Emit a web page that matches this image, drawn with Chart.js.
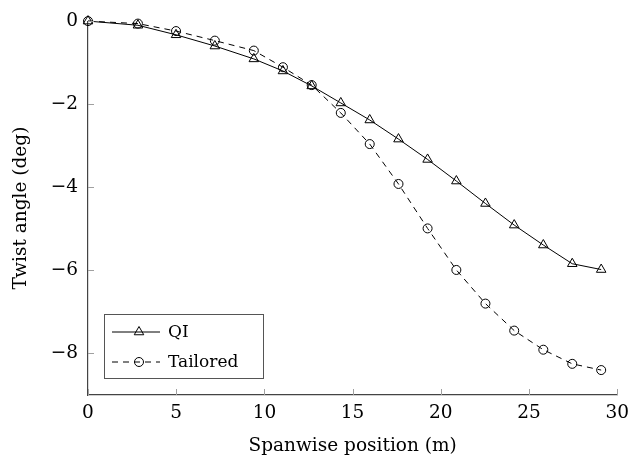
<!DOCTYPE html>
<html>
<head>
<meta charset="utf-8">
<script src="https://cdn.jsdelivr.net/npm/chart.js@4/dist/chart.umd.min.js"></script>
<style>
  html, body { margin: 0; padding: 0; background: #fff; }
  canvas { display: block; }
</style>
</head>
<body>
<canvas id="twist" width="636" height="465"></canvas>
<script>
const positions = [0, 2.83, 4.99, 7.19, 9.40, 11.05, 12.68, 14.33, 15.97, 17.60, 19.25, 20.88, 22.53, 24.16, 25.81, 27.45, 29.09];
const qiTwist = [0, -0.10, -0.33, -0.60, -0.91, -1.20, -1.56, -1.97, -2.38, -2.84, -3.33, -3.85, -4.39, -4.91, -5.39, -5.84, -5.98];
const tailoredTwist = [0, -0.06, -0.24, -0.47, -0.71, -1.11, -1.54, -2.21, -2.96, -3.92, -4.99, -5.99, -6.80, -7.45, -7.91, -8.25, -8.40];
const xTicks = [0, 5, 10, 15, 20, 25, 30];
const yTicks = [-8, -6, -4, -2, 0];

const serif = "'DejaVu Serif', 'Liberation Serif', serif";
const fontSize = 18.5;
const minus = v => (v < 0 ? "\u2212" + Math.abs(v) : String(v));

const toPoints = ys => positions.map((x, i) => ({ x: x, y: ys[i] }));

// ticks drawn inward, like the original
const innerTicks = {
  id: "innerTicks",
  afterDatasetsDraw(chart) {
    const { ctx, chartArea, scales } = chart;
    ctx.save();
    ctx.strokeStyle = "#a0a0a0";
    ctx.lineWidth = 1;
    ctx.beginPath();
    xTicks.forEach(v => {
      const px = Math.round(scales.x.getPixelForValue(v)) + 0.5;
      ctx.moveTo(px, chartArea.bottom);
      ctx.lineTo(px, chartArea.bottom - 6);
    });
    yTicks.forEach(v => {
      const py = Math.round(scales.y.getPixelForValue(v)) + 0.5;
      ctx.moveTo(chartArea.left, py);
      ctx.lineTo(chartArea.left + 6, py);
    });
    ctx.stroke();
    ctx.restore();
  }
};

// legend box with line + marker samples
const boxLegend = {
  id: "boxLegend",
  afterDraw(chart) {
    const ctx = chart.ctx;
    const left = 104, top = 314, w = 159, h = 64;
    ctx.save();
    ctx.fillStyle = "#fff";
    ctx.fillRect(left, top, w, h);
    ctx.strokeStyle = "#555";
    ctx.lineWidth = 1;
    ctx.strokeRect(left + 0.5, top + 0.5, w, h);
    chart.data.datasets.forEach((ds, i) => {
      const y = top + 18 + i * 30;
      ctx.strokeStyle = "#000";
      ctx.lineWidth = 1;
      ctx.setLineDash(ds.borderDash || []);
      ctx.beginPath();
      ctx.moveTo(left + 8, y);
      ctx.lineTo(left + 56, y);
      ctx.stroke();
      ctx.setLineDash([]);
      ctx.fillStyle = "rgba(0,0,0,0)";
      Chart.helpers.drawPoint(ctx, {
        pointStyle: ds.pointStyle,
        radius: ds.pointRadius,
        borderWidth: 1
      }, left + 35, y);
      ctx.fillStyle = "#000";
      ctx.font = "17px " + serif;
      ctx.textBaseline = "middle";
      ctx.fillText(ds.label, left + 64, y + 1);
    });
    ctx.restore();
  }
};

new Chart(document.getElementById("twist").getContext("2d"), {
  type: "line",
  data: {
    datasets: [
      {
        label: "QI",
        data: toPoints(qiTwist),
        borderColor: "#000",
        borderWidth: 1,
        pointStyle: "triangle",
        pointRadius: 5.5,
        pointBorderColor: "#000",
        pointBackgroundColor: "rgba(0,0,0,0)",
        pointBorderWidth: 1,
        tension: 0,
        clip: false
      },
      {
        label: "Tailored",
        data: toPoints(tailoredTwist),
        borderColor: "#000",
        borderWidth: 1,
        borderDash: [6, 5],
        pointStyle: "circle",
        pointRadius: 4.5,
        pointBorderColor: "#000",
        pointBackgroundColor: "rgba(0,0,0,0)",
        pointBorderWidth: 1,
        tension: 0,
        clip: false
      }
    ]
  },
  options: {
    responsive: false,
    devicePixelRatio: 1,
    animation: false,
    layout: { padding: { left: 0, top: 14, right: 15, bottom: 0 } },
    plugins: { legend: { display: false }, tooltip: { enabled: false } },
    scales: {
      x: {
        type: "linear",
        min: 0,
        max: 30,
        afterBuildTicks: s => { s.ticks = xTicks.map(v => ({ value: v })); },
        afterFit: s => { s.height = 70; },
        grid: { display: false, drawTicks: false },
        border: { display: true, color: "#444", width: 1.2 },
        ticks: { color: "#000", padding: 7, font: { family: serif, size: fontSize }, callback: v => minus(v) },
        title: { display: true, text: "Spanwise position (m)", color: "#000", padding: { top: 0, bottom: 8 }, font: { family: serif, size: fontSize } }
      },
      y: {
        type: "linear",
        min: -9,
        max: 0,
        afterBuildTicks: s => { s.ticks = yTicks.map(v => ({ value: v })); },
        afterFit: s => { s.width = 88; },
        grid: { display: false, drawTicks: false },
        border: { display: true, color: "#444", width: 1.2 },
        ticks: { color: "#000", padding: 10, font: { family: serif, size: fontSize }, callback: v => minus(v) },
        title: { display: true, text: "Twist angle (deg)", color: "#000", padding: { top: 10, bottom: 0 }, font: { family: serif, size: fontSize } }
      }
    }
  },
  plugins: [innerTicks, boxLegend]
});
</script>
</body>
</html>
